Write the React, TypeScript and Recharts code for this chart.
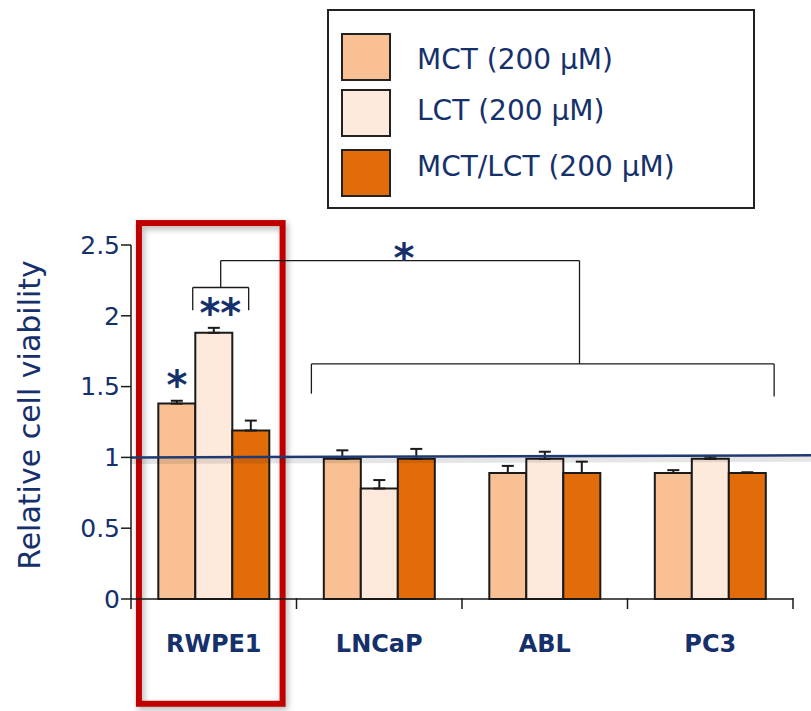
import {
  BarChart, Bar, ErrorBar, XAxis, YAxis, ReferenceLine, ReferenceArea, ReferenceDot,
} from 'recharts'

const NAVY = '#15306b'
const INK = '#1a1a1a'
const TEXT_FONT = "'Comic Sans MS', 'DejaVu Sans', sans-serif"

const categories = ['RWPE1', 'LNCaP', 'ABL', 'PC3']

const seriesNames = ['MCT (200 µM)', 'LCT (200 µM)', 'MCT/LCT (200 µM)']
const seriesColors = ['#f9c193', '#fdeadc', '#e36c0a']

// mean relative viability per cell line
const mctValues = [1.38, 0.99, 0.89, 0.89]
const lctValues = [1.88, 0.78, 0.99, 0.99]
const mixValues = [1.19, 0.99, 0.89, 0.89]

// upper SEM
const mctErr = [0.02, 0.06, 0.05, 0.02]
const lctErr = [0.035, 0.06, 0.05, 0.015]
const mixErr = [0.07, 0.07, 0.08, 0.005]

const yTicks = [0, 0.5, 1, 1.5, 2, 2.5]

// significance brackets, in (group, viability) units: group g spans [g, g + 1]
const brackets: [number, number][][] = [
  [[0.373, 2.04], [0.373, 2.2], [0.711, 2.2], [0.711, 2.04]],
  [[0.542, 2.2], [0.542, 2.39], [2.71, 2.39], [2.71, 1.66]],
  [[1.09, 1.45], [1.09, 1.66], [3.886, 1.66], [3.886, 1.43]],
]
const stars = [
  { x: 0.277, y: 1.51, text: '*' },
  { x: 0.54, y: 2.02, text: '**' },
  { x: 1.65, y: 2.41, text: '*' },
]

const data = categories.map((name, i) => ({
  name,
  mct: mctValues[i],
  lct: lctValues[i],
  mix: mixValues[i],
  mctErr: [0, mctErr[i]],
  lctErr: [0, lctErr[i]],
  mixErr: [0, mixErr[i]],
}))

// the helper numeric axis runs over row indices [0, n-1] across the full plot
// width, so group units [0, n] are rescaled onto it
const LAST = categories.length - 1
const gx = (g: number) => (g * LAST) / categories.length
const fromGx = (v: number) => (v * categories.length) / LAST

const groupTicks = [0, 0.5, 1, 1.5, 2, 2.5, 3, 3.5, 4].map(gx)

function GroupTick({ x, y, payload }: any) {
  const g = Math.round(fromGx(payload.value) * 2) / 2
  if (Number.isInteger(g)) {
    return <line x1={x} x2={x} y1={y - 11} y2={y} stroke={INK} strokeWidth={1.5} />
  }
  return (
    <text x={x} y={y + 43} textAnchor="middle" fill={NAVY}
      style={{ fontFamily: "'DejaVu Sans', Verdana, sans-serif", fontWeight: 700, fontSize: 24 }}>
      {categories[Math.floor(g)]}
    </text>
  )
}

const swatchTops = [22, 78, 138]
const labelTops = [32, 83, 139]

function LegendBox() {
  return (
    <div style={{
      position: 'absolute', left: 327, top: 9, width: 424, height: 196,
      border: '2px solid #222', background: '#fff', boxSizing: 'content-box',
    }}>
      {seriesNames.map((name, i) => (
        <div key={name}>
          <div style={{
            position: 'absolute', left: 12, top: swatchTops[i], width: 46, height: 44,
            background: seriesColors[i], border: '2px solid #222',
          }} />
          <span style={{
            position: 'absolute', left: 88, top: labelTops[i], lineHeight: '34px',
            fontFamily: TEXT_FONT, fontSize: 28, color: NAVY, whiteSpace: 'nowrap',
          }}>{name}</span>
        </div>
      ))}
    </div>
  )
}

export default function App() {
  return (
    <div style={{ position: 'absolute', left: 0, top: 0, width: 811, height: 711, background: '#fff' }}>
      <BarChart
        width={811}
        height={711}
        data={data}
        margin={{ top: 245, right: 18, left: 0, bottom: 52 }}
        barCategoryGap="16.5%"
        barGap={0}
      >
        <XAxis xAxisId="cat" dataKey="name" hide height={0} />
        <XAxis
          xAxisId="num"
          type="number"
          domain={[0, LAST]}
          allowDataOverflow
          ticks={groupTicks}
          interval={0}
          height={60}
          tickSize={10}
          tickMargin={0}
          tickLine={false}
          axisLine={{ stroke: INK, strokeWidth: 1.5 }}
          tick={<GroupTick />}
        />
        <YAxis
          domain={[0, 2.5]}
          ticks={yTicks}
          width={131}
          tickSize={10}
          tickMargin={1}
          axisLine={{ stroke: INK, strokeWidth: 1.5 }}
          tickLine={{ stroke: INK, strokeWidth: 1.5 }}
          tick={{ fill: NAVY, fontSize: 25, fontFamily: TEXT_FONT }}
          label={{
            content: ({ viewBox }: any) => {
              const cx = viewBox.x + 29
              const cy = viewBox.y + viewBox.height / 2 - 7
              return (
                <text x={cx} y={cy} transform={`rotate(-90 ${cx} ${cy})`} textAnchor="middle"
                  dominantBaseline="central" fill={NAVY} style={{ fontFamily: TEXT_FONT, fontSize: 30 }}>
                  Relative cell viability
                </text>
              )
            },
          }}
        />

        <Bar xAxisId="cat" dataKey="mct" name={seriesNames[0]} fill={seriesColors[0]} stroke={INK} strokeWidth={2} isAnimationActive={false}>
          <ErrorBar dataKey="mctErr" width={6} stroke={INK} strokeWidth={2} isAnimationActive={false} />
        </Bar>
        <Bar xAxisId="cat" dataKey="lct" name={seriesNames[1]} fill={seriesColors[1]} stroke={INK} strokeWidth={2} isAnimationActive={false}>
          <ErrorBar dataKey="lctErr" width={6} stroke={INK} strokeWidth={2} isAnimationActive={false} />
        </Bar>
        <Bar xAxisId="cat" dataKey="mix" name={seriesNames[2]} fill={seriesColors[2]} stroke={INK} strokeWidth={2} isAnimationActive={false}>
          <ErrorBar dataKey="mixErr" width={6} stroke={INK} strokeWidth={2} isAnimationActive={false} />
        </Bar>

        {/* baseline at 1 with its soft shadow */}
        <ReferenceLine xAxisId="num" ifOverflow="visible"
          segment={[{ x: gx(0), y: 0.975 }, { x: gx(4.11), y: 0.99 }]}
          stroke="#000" strokeOpacity={0.1} strokeWidth={6} />
        <ReferenceLine xAxisId="num" ifOverflow="visible"
          segment={[{ x: gx(0), y: 1 }, { x: gx(4.11), y: 1.015 }]}
          stroke="#1f3a73" strokeWidth={2.5} />

        {brackets.map((pts, i) =>
          pts.slice(1).map((p, j) => (
            <ReferenceLine key={`b${i}-${j}`} xAxisId="num" ifOverflow="visible"
              segment={[{ x: gx(pts[j][0]), y: pts[j][1] }, { x: gx(p[0]), y: p[1] }]}
              stroke={INK} strokeWidth={1.3} />
          )),
        )}

        {stars.map((s, i) => (
          <ReferenceDot key={`s${i}`} xAxisId="num" x={gx(s.x)} y={s.y} r={0} fill="none" stroke="none"
            label={{ value: s.text, position: 'center', fill: NAVY, fontSize: 40, fontWeight: 700, fontFamily: 'DejaVu Sans' }} />
        ))}

        {/* highlight frame around the RWPE1 group */}
        <ReferenceArea xAxisId="num" ifOverflow="visible" x1={gx(0.048)} x2={gx(0.916)} y1={-0.74} y2={2.655}
          shape={(p: any) => (
            <rect x={p.x} y={p.y} width={p.width} height={p.height} fill="none" stroke="#c00000" strokeWidth={6}
              style={{ filter: 'drop-shadow(2px 3px 3px rgba(0,0,0,0.3))' }} />
          )} />
      </BarChart>
      <LegendBox />
    </div>
  )
}
